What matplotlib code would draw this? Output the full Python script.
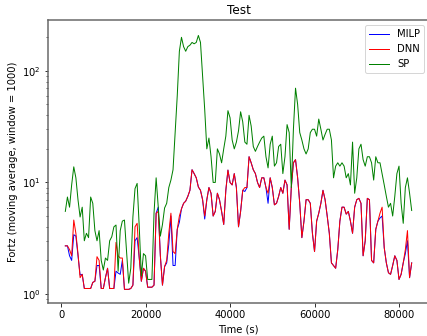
import matplotlib
matplotlib.use("Agg")
import matplotlib.pyplot as plt
import numpy as np

# sampling grid (s), one value every 500 s
time_s = np.arange(1000, 83500, 500)

milp = [2.7, 2.7, 2.2, 2.0, 3.4, 3.3, 2.2, 1.48, 1.5, 1.12,
        1.12, 1.12, 1.12, 1.27, 1.3, 1.8, 1.8, 1.12, 1.12, 1.4,
        1.7, 1.12, 1.12, 1.12, 1.6, 1.54, 1.5, 2.0, 1.1, 1.1,
        1.1, 1.12, 1.2, 3.0, 3.2, 2.1, 1.3, 1.7, 1.6, 1.15,
        1.15, 1.15, 1.2, 5.3, 6.0, 2.2, 1.2, 1.76, 1.9, 2.8,
        5.0, 1.8, 1.8, 3.8, 4.4, 5.8, 6.5, 6.8, 7.5, 8.5,
        13, 12, 11, 9.1, 8.5, 7.0, 4.7, 7.0, 9, 8.0,
        5.0, 5.5, 8.0, 7.0, 5.5, 4.2, 8.5, 12.9, 10, 9.5,
        12, 9, 4.0, 5.5, 8.5, 8.3, 9, 17, 15, 13,
        12, 10, 9, 11, 11, 9, 6.5, 11, 9, 6.3,
        6.5, 7.5, 9, 8, 10.5, 9.5, 3.8, 9, 15, 16,
        11, 6.5, 3.2, 4.5, 7.0, 7.0, 6.5, 3.5, 2.4, 4.5,
        5.3, 6.5, 8.5, 7.0, 5.0, 3.5, 1.9, 1.8, 1.7, 2.5,
        4.5, 6.0, 6.0, 5.2, 5.5, 4.5, 3.5, 6.0, 7.0, 7.2,
        6.5, 2.2, 3.0, 7.2, 7.0, 2.0, 1.9, 3.8, 4.5, 4.8,
        5.0, 2.6, 1.9, 1.55, 1.5, 1.8, 2.2, 2.0, 1.35, 1.5,
        1.9, 2.3, 3.0, 1.4, 1.9]

dnn = [2.7, 2.7, 2.5, 2.2, 4.6, 3.5, 2.3, 1.4, 1.5, 1.12,
       1.12, 1.12, 1.12, 1.27, 1.3, 2.16, 2.0, 1.12, 1.12, 1.4,
       1.7, 1.12, 1.12, 1.12, 2.9, 2.2, 2.1, 2.1, 1.1, 1.1,
       1.1, 1.12, 1.2, 4.0, 4.3, 2.1, 1.3, 1.7, 1.6, 1.15,
       1.15, 1.15, 1.2, 5.3, 5.5, 2.2, 1.2, 1.76, 2.0, 3.5,
       5.3, 2.4, 2.3, 3.8, 5.0, 5.8, 6.5, 6.8, 7.5, 8.5,
       13, 12, 11, 9.1, 8.5, 7.0, 5.0, 7.0, 9, 8.0,
       5.0, 5.5, 8.0, 7.0, 5.5, 4.2, 8.5, 12.9, 10, 9.5,
       12, 9, 4.0, 5.5, 8.5, 9, 9, 17, 15, 13,
       12, 10, 9, 11, 11, 9, 8.0, 11, 9, 6.3,
       6.5, 7.5, 9, 8, 10.5, 9.5, 3.8, 9, 15, 16,
       11, 6.5, 3.2, 4.5, 7.0, 7.0, 6.5, 3.5, 2.4, 4.5,
       5.3, 6.5, 8.5, 7.0, 5.0, 3.5, 1.9, 1.8, 1.7, 2.5,
       4.5, 6.0, 6.0, 5.2, 5.5, 4.5, 3.5, 6.0, 7.0, 7.2,
       6.5, 2.2, 3.0, 7.2, 7.0, 2.0, 1.9, 3.8, 4.5, 5.3,
       6.0, 2.6, 1.9, 1.55, 1.5, 1.8, 2.2, 2.0, 1.35, 1.5,
       1.9, 2.5, 3.7, 1.4, 1.9]

sp = [5.5, 7.4, 6.0, 9.5, 13.8, 11, 7.0, 4.9, 6.0, 3.0,
      3.5, 3.2, 7.4, 6.5, 3.7, 3.0, 3.7, 2.0, 1.64, 2.1,
      2.0, 3.0, 3.26, 4.0, 4.15, 1.6, 3.7, 4.5, 4.6, 2.4,
      1.25, 1.7, 4.9, 8.8, 9.8, 4.0, 1.45, 2.3, 2.2, 1.35,
      1.35, 1.35, 5.3, 11, 6.0, 3.3, 4.2, 5.9, 6.5, 9.0,
      10.5, 13, 28, 60, 150, 200, 165, 150, 165, 170,
      180, 175, 180, 208, 180, 90, 45, 20, 25, 17,
      10, 10, 20, 18, 15, 20, 26, 44, 38, 24,
      20, 23, 29, 43, 35, 23, 22, 40, 32, 21,
      19, 21, 23, 25, 26, 17, 13.5, 22, 26, 14,
      15, 21, 22, 12, 17, 33, 28, 9, 30, 70,
      50, 28, 24, 20, 18, 20, 28, 30, 30, 26,
      37, 30, 24, 27, 30, 30, 24, 11, 14, 15,
      14, 15, 14, 11, 12, 9.5, 23, 8, 11, 20,
      22, 16, 14, 17, 17, 15, 10.5, 17, 15, 15,
      12, 9.5, 7.5, 6.0, 6.5, 5.0, 7.5, 12, 14, 6.5,
      4.3, 9, 11, 8, 5.6]

fig = plt.figure(figsize=(427 / 72, 336 / 72), dpi=72)
ax = fig.add_axes([48 / 427, 33 / 336, 381 / 427, 283 / 336])

ax.plot(time_s, milp, color='b', linewidth=1.0, label='MILP')
ax.plot(time_s, dnn, color='r', linewidth=1.0, label='DNN')
ax.plot(time_s, sp, color='g', linewidth=1.0, label='SP')

ax.set_yscale('log')
ax.set_ylim(0.83, 286)
ax.set_xlim(-3100, 87100)
ax.set_xticks([0, 20000, 40000, 60000, 80000])

ax.set_title('Test')
ax.set_xlabel('Time (s)')
ax.set_ylabel('Fortz (moving average, window = 1000)')
ax.legend(loc='upper right')

for s in ax.spines.values():
    s.set_linewidth(1.5)
    s.set_color('#666666')

fig.savefig('out.png', dpi=72)
